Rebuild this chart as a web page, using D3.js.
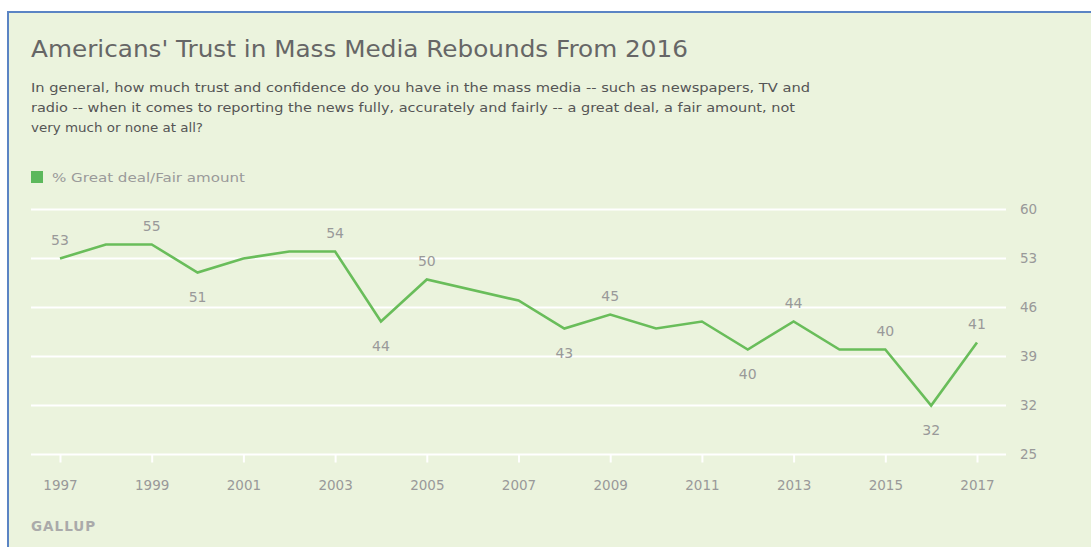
<!DOCTYPE html>
<html><head><meta charset="utf-8">
<script src="https://cdn.jsdelivr.net/npm/d3@7"></script>
<style>
html,body{margin:0;padding:0;background:#fff;}
svg{display:block;}
text{font-family:"DejaVu Sans","Noto Sans",sans-serif;}
</style></head>
<body>
<script>
const years = [1997,1998,1999,2000,2001,2002,2003,2004,2005,2007,2008,2009,2010,2011,2012,2013,2014,2015,2016,2017];
const values = [53,55,55,51,53,54,54,44,50,47,43,45,43,44,40,44,40,40,32,41];
// data labels: year -> position
const labelYears = [1997,1999,2000,2003,2004,2005,2008,2009,2012,2013,2015,2016,2017];
const labelPos = ["above","above","below","above","below","above","below","above","below","above","above","below","above"];
const yTicks = [25,32,39,46,53,60];
const xTicks = [1997,1999,2001,2003,2005,2007,2009,2011,2013,2015,2017];
const title = "Americans' Trust in Mass Media Rebounds From 2016";
const subtitle = ["In general, how much trust and confidence do you have in the mass media -- such as newspapers, TV and",
  "radio -- when it comes to reporting the news fully, accurately and fairly -- a great deal, a fair amount, not",
  "very much or none at all?"];
const legendLabel = "% Great deal/Fair amount";
const source = "GALLUP";

const W = 1091, H = 547;
const FONT = "'DejaVu Sans','Noto Sans',sans-serif";
const svg = d3.select("body").append("svg").attr("width", W).attr("height", H);
svg.append("rect").attr("x",8).attr("y",11).attr("width",W-8).attr("height",H-11).attr("fill","#ebf3dd");
svg.append("line").attr("x1",8).attr("x2",W).attr("y1",12).attr("y2",12).attr("stroke","#5b84c4").attr("stroke-width",2);
svg.append("line").attr("x1",8).attr("x2",8).attr("y1",11).attr("y2",H).attr("stroke","#5b84c4").attr("stroke-width",2);

svg.append("text").attr("x",31).attr("y",57).attr("font-size",22.5).attr("fill","#666")
  .attr("textLength",657).attr("lengthAdjust","spacingAndGlyphs").text(title);
const subLens = [779, 764, 172];
subtitle.forEach((s,i)=>svg.append("text").attr("x",31).attr("y",92+i*20).attr("font-size",12.6).attr("fill","#555")
  .attr("textLength",subLens[i]).attr("lengthAdjust","spacingAndGlyphs").text(s));

svg.append("rect").attr("x",31).attr("y",171).attr("width",12).attr("height",12).attr("fill","#5cb85c");
svg.append("text").attr("x",52).attr("y",181.5).attr("font-size",13).attr("fill","#9a9a9a")
  .attr("textLength",193).attr("lengthAdjust","spacingAndGlyphs").text(legendLabel);

const x = d3.scaleLinear().domain([1997,2017]).range([60,977]);
const y = d3.scaleLinear().domain([25,60]).range([454.5,209.5]);

// gridlines
const yAxis = d3.axisRight(y).tickValues(yTicks).tickSize(0).tickPadding(0);
const gy = svg.append("g").attr("transform","translate(1020,0)").call(yAxis);
gy.select(".domain").remove();
gy.selectAll("text").attr("font-size",13.5).attr("fill","#999").attr("font-family",FONT);
svg.append("g").selectAll("line").data(yTicks).join("line")
  .attr("x1",31).attr("x2",1006).attr("y1",d=>y(d)).attr("y2",d=>y(d))
  .attr("stroke","#ffffff").attr("stroke-width",2);

// x axis
const xAxis = d3.axisBottom(x).tickValues(xTicks).tickFormat(d3.format("d")).tickSize(8).tickPadding(18);
const gx = svg.append("g").attr("transform",`translate(0,${y(25)})`).call(xAxis);
gx.select(".domain").remove();
gx.selectAll(".tick line").attr("stroke","#ffffff").attr("stroke-width",2);
gx.selectAll("text").attr("font-size",13.5).attr("fill","#999").attr("font-family",FONT);

// line
const pts = years.map((yr,i)=>({yr, v:values[i]}));
svg.append("path").datum(pts)
  .attr("d", d3.line().x(d=>x(d.yr)).y(d=>y(d.v)))
  .attr("fill","none").attr("stroke","#69bd5a").attr("stroke-width",2.6).attr("stroke-linejoin","miter");

// data labels
svg.append("g").selectAll("text").data(labelYears).join("text")
  .attr("x",d=>x(d))
  .attr("y",(d,i)=>{const v=values[years.indexOf(d)]; return labelPos[i]==="above"? y(v)-14 : y(v)+29;})
  .attr("text-anchor","middle").attr("font-size",14).attr("fill","#999")
  .text(d=>values[years.indexOf(d)]);

svg.append("text").attr("x",31).attr("y",531).attr("font-size",13.5).attr("font-weight","bold")
  .attr("letter-spacing",1).attr("fill","#aaa").text(source);
</script>
</body></html>
